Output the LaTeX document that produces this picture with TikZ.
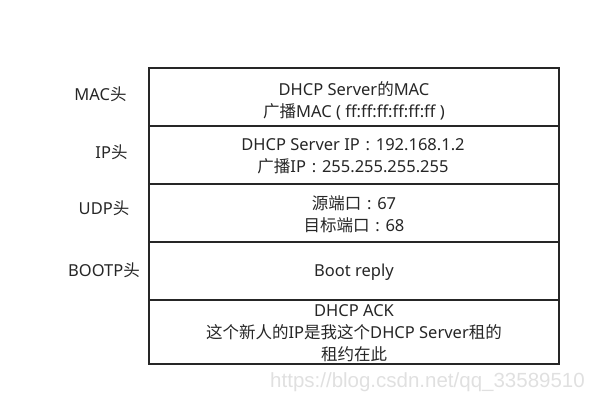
\documentclass[tikz,border=0pt]{standalone}
\usepackage{fontspec}
\setmainfont{Noto Sans}
\newfontfamily\cjk{Noto Sans CJK SC}
\newfontfamily\wmfont{Liberation Sans}
\newcommand\fwcolon{\hspace{0.35em}:\hspace{0.35em}}
\begin{document}
\begin{tikzpicture}[x=1pt,y=-1pt,
  field/.style={align=center,text=black!85,font=\fontsize{16.5}{22}\selectfont},
  header/.style={text=black!85,font=\fontsize{16.5}{22}\selectfont},
  frame/.style={line width=1.6pt,draw=black!85}]
  \useasboundingbox (0,0) rectangle (600,400);

  % Packet frame
  \draw[frame] (149,68) rectangle (559,364);
  \foreach \y in {126,184,242,300}
    \draw[frame] (149,\y) -- (559,\y);

  % Header names
  \node[header] (mac) at (100.5,94) {MAC{\cjk 头}};
  \node[header] (ip) at (111.5,152) {IP{\cjk 头}};
  \node[header] (udp) at (104,208) {UDP{\cjk 头}};
  \node[header] (bootp) at (104,270) {BOOTP{\cjk 头}};

  % Field contents
  \node[field] (macf) at (354,101) {DHCP Server{\cjk 的}MAC\\{\cjk 广播}MAC ( ff:ff:ff:ff:ff:ff )};
  \node[field] (ipf) at (353,156.5) {DHCP Server IP\fwcolon192.168.1.2\\{\cjk 广播}IP\fwcolon255.255.255.255};
  \node[field] (udpf) at (354,214.5) {{\cjk 源端口}\fwcolon67\\{\cjk 目标端口}\fwcolon68};
  \node[field] (bootpf) at (354,272) {Boot reply};
  \node[field] (ackf) at (354,333.5) {DHCP ACK\\{\cjk 这个新人的}IP{\cjk 是我这个}DHCP Server{\cjk 租的}\\{\cjk 租约在此}};

  % Watermark
  \node[text=black!12,font=\wmfont\fontsize{20.5}{22}\selectfont] (wm) at (427.5,382) {https://blog.csdn.net/qq\_33589510};

\end{tikzpicture}
\end{document}
